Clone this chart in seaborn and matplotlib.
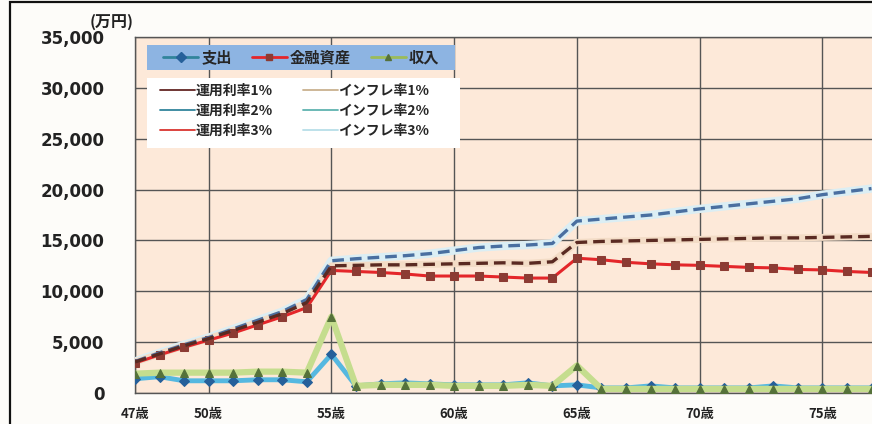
import matplotlib
matplotlib.use("Agg")
import matplotlib.pyplot as plt
import seaborn as sns
import pandas as pd
from matplotlib.lines import Line2D
from matplotlib.patches import Rectangle

# ---------------- data ----------------
ages = list(range(47, 78))
expense = [1400, 1600, 1200, 1200, 1200, 1300, 1300, 1100, 3800, 700,
           900, 1000, 900, 800, 800, 800, 1000, 700, 800, 500,
           500, 700, 500, 500, 500, 500, 700, 500, 500, 500, 500]
income = [1900, 2000, 2000, 2000, 2000, 2100, 2100, 2000, 7500, 700,
          800, 800, 800, 700, 700, 700, 800, 700, 2700, 400,
          400, 400, 400, 400, 400, 400, 400, 400, 400, 400, 400]
assets = [2950, 3750, 4500, 5200, 5900, 6700, 7500, 8400, 12050, 11950,
          11850, 11700, 11500, 11500, 11500, 11400, 11300, 11300, 13250, 13100,
          12850, 12700, 12600, 12550, 12450, 12350, 12300, 12150, 12100, 11950, 11850]
proj_blue = [3100, 3950, 4750, 5450, 6300, 7150, 8000, 9200, 13000, 13200,
             13350, 13500, 13700, 14000, 14300, 14450, 14550, 14700, 16900, 17100,
             17300, 17500, 17800, 18100, 18350, 18600, 18850, 19100, 19500, 19800, 20100]
proj_darkred = [3050, 3850, 4650, 5350, 6150, 6950, 7800, 8900, 12500, 12550,
                12600, 12600, 12650, 12700, 12750, 12800, 12750, 12900, 14800, 14900,
                14950, 15000, 15050, 15100, 15150, 15200, 15250, 15250, 15300, 15350, 15400]

xtick_ages = [47, 50, 55, 60, 65, 70, 75]
xtick_labels = ["47歳", "50歳", "55歳", "60歳", "65歳", "70歳", "75歳"]
ytick_values = [0, 5000, 10000, 15000, 20000, 25000, 30000, 35000]
ytick_labels = ["0", "5,000", "10,000", "15,000", "20,000", "25,000", "30,000", "35,000"]
legend_top = ["支出", "金融資産", "収入"]
legend_bottom = ["運用利率1%", "運用利率2%", "運用利率3%",
                 "インフレ率1%", "インフレ率2%", "インフレ率3%"]
unit_label = "(万円)"

# ---------------- style ----------------
sns.set_style("white")
plt.rcParams["font.family"] = ["Noto Sans CJK JP", "DejaVu Sans"]

W, H = 872, 424
fig = plt.figure(figsize=(W / 100, H / 100), dpi=100)
fig.patch.set_facecolor("#fdfcf9")

L, R, T, B = 135, 872, 37, 393
ax = fig.add_axes([L / W, 1 - B / H, (R - L) / W, (B - T) / H])
ax.set_facecolor("#fde9d9")

df = pd.DataFrame({"age": ages, "expense": expense, "income": income,
                   "assets": assets, "blue": proj_blue, "darkred": proj_darkred})

# projection (dashed) lines with pale glow
sns.lineplot(data=df, x="age", y="blue", ax=ax, color="#dbeef4", lw=6,
             legend=False, zorder=3)
sns.lineplot(data=df, x="age", y="blue", ax=ax, color="#4a6fa0", lw=2.4,
             linestyle=(0, (3.5, 1.8)), legend=False, zorder=4)
sns.lineplot(data=df, x="age", y="darkred", ax=ax, color="#f3dcc6", lw=5,
             legend=False, zorder=3)
sns.lineplot(data=df, x="age", y="darkred", ax=ax, color="#5a2a22", lw=2.4,
             linestyle=(0, (3.5, 1.8)), legend=False, zorder=4)

# assets (red with squares)
sns.lineplot(data=df, x="age", y="assets", ax=ax, color="#e4262a", lw=2.2,
             marker="s", markersize=6, markerfacecolor="#8c3b33",
             markeredgecolor="#8c3b33", legend=False, zorder=3.5)

# income (green with triangles) and expense (blue with diamonds)
sns.lineplot(data=df, x="age", y="income", ax=ax, color="#c5dd8e", lw=4.5,
             marker="^", markersize=6, markerfacecolor="#55713a",
             markeredgecolor="#55713a", legend=False, zorder=3.2)
sns.lineplot(data=df, x="age", y="expense", ax=ax, color="#55b8e0", lw=3.5,
             marker="D", markersize=5.5, markerfacecolor="#26609a",
             markeredgecolor="#26609a", legend=False, zorder=3.1)

# axes setup
ax.set_xlim(47, 47 + (R - L) / 24.55)
ax.set_ylim(0, 35000)
ax.set_xticks(xtick_ages)
ax.set_xticklabels(xtick_labels, fontsize=9.5, fontweight="bold",
                   family=["Noto Sans CJK JP", "DejaVu Sans"], color="#222222")
ax.set_yticks(ytick_values)
ax.set_yticklabels(ytick_labels, fontsize=12, fontweight="bold",
                   family="DejaVu Sans", color="#222222")
ax.tick_params(axis="y", length=0, pad=22)
ax.tick_params(axis="x", length=0, pad=10)
ax.set_xlabel("")
ax.set_ylabel("")
ax.grid(True, color="#555555", lw=1.0)
ax.set_axisbelow(True)
for s in ["left", "bottom", "top"]:
    ax.spines[s].set_color("#555555")
    ax.spines[s].set_linewidth(1.0)
ax.spines["right"].set_visible(False)

# unit label
fig.text(134 / W, 1 - 22 / H, unit_label, ha="right", va="center",
         fontsize=11.5, fontweight="bold", color="#222222")


def axx(px):
    return (px - L) / (R - L)


def axy(py):
    return (B - py) / (B - T)


# legend 1 (blue box)
ax.add_patch(Rectangle((axx(147), axy(70)), axx(455) - axx(147), axy(45) - axy(70),
                       transform=ax.transAxes, facecolor="#8db4e2", edgecolor="none",
                       zorder=6))
h1 = [Line2D([], [], color="#31849b", lw=2, marker="D", ms=5,
             mfc="#26609a", mec="#26609a"),
      Line2D([], [], color="#e4262a", lw=2, marker="s", ms=5,
             mfc="#8c3b33", mec="#8c3b33"),
      Line2D([], [], color="#9bbb59", lw=2, marker="^", ms=5,
             mfc="#55713a", mec="#55713a")]
leg1 = ax.legend(h1, legend_top, ncol=3, loc="center left",
                 bbox_to_anchor=(axx(163), axy(57.5)), frameon=False,
                 borderpad=0, borderaxespad=0, handlelength=2.3,
                 handletextpad=0.2, columnspacing=1.3,
                 prop={"family": ["Noto Sans CJK JP", "DejaVu Sans"],
                       "weight": "bold", "size": 11})
leg1.set_zorder(7)
ax.add_artist(leg1)

# legend 2 (white box)
ax.add_patch(Rectangle((axx(147), axy(148)), axx(460) - axx(147), axy(78) - axy(148),
                       transform=ax.transAxes, facecolor="#ffffff", edgecolor="none",
                       zorder=6))
c2 = ["#632523", "#31859c", "#d9352f", "#c9b18f", "#5fb3b0", "#b7dee8"]
h2 = [Line2D([], [], color=c, lw=1.3) for c in c2]
leg2 = ax.legend(h2, legend_bottom, ncol=2, loc="upper left",
                 bbox_to_anchor=(axx(160), axy(84)), frameon=False,
                 borderpad=0, borderaxespad=0, handlelength=2.5,
                 handletextpad=0.05, columnspacing=2.2, labelspacing=0.42,
                 prop={"family": ["Noto Sans CJK JP", "DejaVu Sans"],
                       "weight": "bold", "size": 10})
leg2.set_zorder(7)

# outer frame
fig.patches.append(Rectangle((10 / W, -0.05), 1.2, 1 - 2 / H + 0.05,
                             transform=fig.transFigure, facecolor="none",
                             edgecolor="#111111", lw=1.6, zorder=10))

fig.savefig("out.png", dpi=100, facecolor=fig.get_facecolor())
